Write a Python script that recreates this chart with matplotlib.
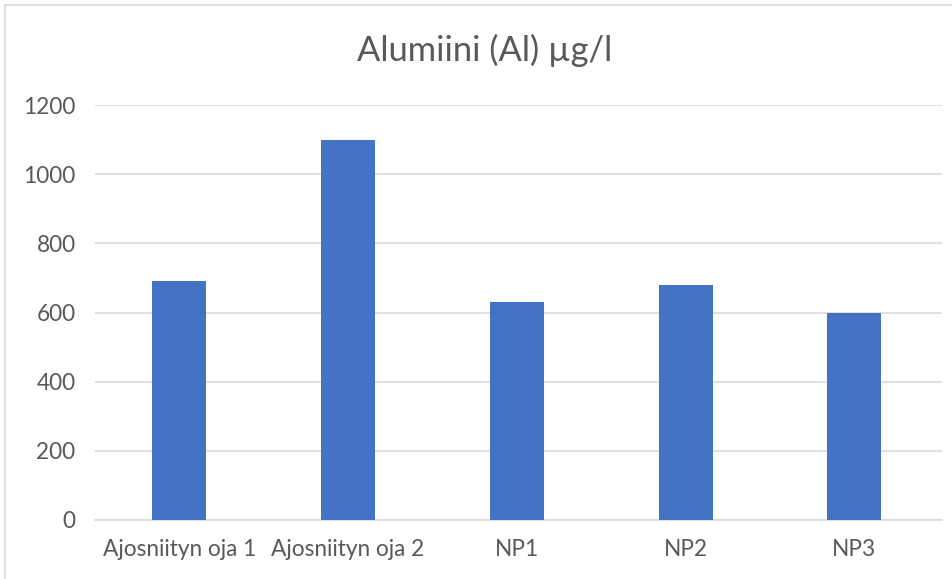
import matplotlib.pyplot as plt
from matplotlib.lines import Line2D

categories = ['Ajosniityn oja 1', 'Ajosniityn oja 2', 'NP1', 'NP2', 'NP3']
values = [690, 1100, 630, 680, 600]
yticks = [0, 200, 400, 600, 800, 1000, 1200]

plt.rcParams['font.family'] = ['Lato', 'DejaVu Sans']

W, H = 952, 579
fig = plt.figure(figsize=(W / 100, H / 100), dpi=100)
ax = fig.add_axes([95 / W, 1 - 520 / H, 847 / W, 415 / H])

ax.bar(range(len(categories)), values, width=0.32, color='#4472C4', zorder=3)
ax.set_xlim(-0.5, len(categories) - 0.48)
ax.set_ylim(0, 1200)
ax.set_yticks(yticks)
ax.set_xticks(range(len(categories)))
ax.set_xticklabels(categories)
ax.grid(axis='y', color='#d9d9d9', linewidth=1.2, zorder=0)
for s in ['top', 'right', 'left']:
    ax.spines[s].set_visible(False)
ax.spines['bottom'].set_color('#d9d9d9')
ax.spines['bottom'].set_linewidth(1.2)
ax.tick_params(axis='both', length=0, labelsize=16.3, colors='#595959')
ax.tick_params(axis='y', pad=14)
ax.tick_params(axis='x', pad=14)

fig.text(485 / W, 1 - 50 / H, 'Alumiini (Al) µg/l', ha='center', va='center',
         fontsize=24.8, color='#595959')

# chart frame (left and top edges visible in screenshot)
fig.add_artist(Line2D([5 / W, 5 / W], [0, 1 - 5 / H], transform=fig.transFigure,
                      color='#d9d9d9', linewidth=1.2))
fig.add_artist(Line2D([5 / W, 1], [1 - 5 / H, 1 - 5 / H], transform=fig.transFigure,
                      color='#d9d9d9', linewidth=1.2))

fig.savefig('out.png', dpi=100)
